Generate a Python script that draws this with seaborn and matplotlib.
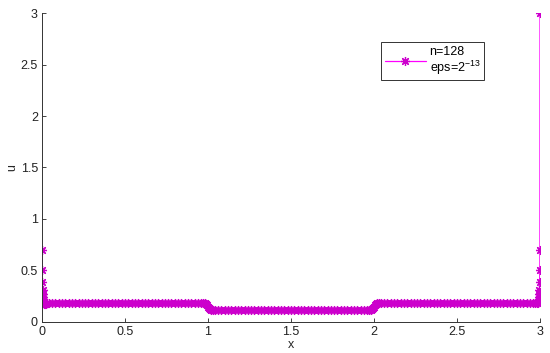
import numpy as np
import pandas as pd
import matplotlib
matplotlib.use("Agg")
import matplotlib.pyplot as plt
import seaborn as sns

# boundary layer at x=0
x_layer0 = [0.0, 0.001, 0.002, 0.003, 0.004, 0.005, 0.006, 0.007, 0.008, 0.010,
            0.013, 0.016, 0.020, 0.025, 0.030]
u_layer0 = [0.70, 0.50, 0.39, 0.31, 0.27, 0.24, 0.22, 0.20, 0.19, 0.18,
            0.175, 0.17, 0.172, 0.176, 0.18]

# plateau on [0,1]
x_plat1 = [0.04, 0.06, 0.08, 0.10, 0.12, 0.14, 0.16, 0.18, 0.20, 0.22, 0.24, 0.26,
           0.28, 0.30, 0.32, 0.34, 0.36, 0.38, 0.40, 0.42, 0.44, 0.46, 0.48, 0.50,
           0.52, 0.54, 0.56, 0.58, 0.60, 0.62, 0.64, 0.66, 0.68, 0.70, 0.72, 0.74,
           0.76, 0.78, 0.80, 0.82, 0.84, 0.86, 0.88, 0.90, 0.92, 0.94, 0.96]
u_plat1 = [0.18, 0.18, 0.18, 0.18, 0.18, 0.18, 0.18, 0.18, 0.18, 0.18, 0.18, 0.18,
           0.18, 0.18, 0.18, 0.18, 0.18, 0.18, 0.18, 0.18, 0.18, 0.18, 0.18, 0.18,
           0.18, 0.18, 0.18, 0.18, 0.18, 0.18, 0.18, 0.18, 0.18, 0.18, 0.18, 0.18,
           0.18, 0.18, 0.18, 0.18, 0.18, 0.18, 0.18, 0.18, 0.18, 0.18, 0.18]

# interior layer at x=1
x_jump1 = [0.97, 0.98, 0.985, 0.99, 0.995, 1.0, 1.005, 1.01, 1.015, 1.02, 1.03]
u_jump1 = [0.18, 0.18, 0.178, 0.172, 0.162, 0.148, 0.135, 0.126, 0.121, 0.119, 0.118]

# plateau on [1,2]
x_plat2 = [1.04, 1.06, 1.08, 1.10, 1.12, 1.14, 1.16, 1.18, 1.20, 1.22, 1.24, 1.26,
           1.28, 1.30, 1.32, 1.34, 1.36, 1.38, 1.40, 1.42, 1.44, 1.46, 1.48, 1.50,
           1.52, 1.54, 1.56, 1.58, 1.60, 1.62, 1.64, 1.66, 1.68, 1.70, 1.72, 1.74,
           1.76, 1.78, 1.80, 1.82, 1.84, 1.86, 1.88, 1.90, 1.92, 1.94, 1.96]
u_plat2 = [0.118, 0.118, 0.118, 0.118, 0.118, 0.118, 0.118, 0.118, 0.118, 0.118, 0.118, 0.118,
           0.118, 0.118, 0.118, 0.118, 0.118, 0.118, 0.118, 0.118, 0.118, 0.118, 0.118, 0.118,
           0.118, 0.118, 0.118, 0.118, 0.118, 0.118, 0.118, 0.118, 0.118, 0.118, 0.118, 0.118,
           0.118, 0.118, 0.118, 0.118, 0.118, 0.118, 0.118, 0.118, 0.118, 0.118, 0.118]

# interior layer at x=2
x_jump2 = [1.97, 1.98, 1.985, 1.99, 1.995, 2.0, 2.005, 2.01, 2.015, 2.02, 2.03]
u_jump2 = [0.118, 0.119, 0.121, 0.126, 0.135, 0.148, 0.162, 0.172, 0.178, 0.18, 0.18]

# plateau on [2,3]
x_plat3 = [2.04, 2.06, 2.08, 2.10, 2.12, 2.14, 2.16, 2.18, 2.20, 2.22, 2.24, 2.26,
           2.28, 2.30, 2.32, 2.34, 2.36, 2.38, 2.40, 2.42, 2.44, 2.46, 2.48, 2.50,
           2.52, 2.54, 2.56, 2.58, 2.60, 2.62, 2.64, 2.66, 2.68, 2.70, 2.72, 2.74,
           2.76, 2.78, 2.80, 2.82, 2.84, 2.86, 2.88, 2.90, 2.92, 2.94, 2.96]
u_plat3 = [0.18, 0.18, 0.18, 0.18, 0.18, 0.18, 0.18, 0.18, 0.18, 0.18, 0.18, 0.18,
           0.18, 0.18, 0.18, 0.18, 0.18, 0.18, 0.18, 0.18, 0.18, 0.18, 0.18, 0.18,
           0.18, 0.18, 0.18, 0.18, 0.18, 0.18, 0.18, 0.18, 0.18, 0.18, 0.18, 0.18,
           0.18, 0.18, 0.18, 0.18, 0.18, 0.18, 0.18, 0.18, 0.18, 0.18, 0.18]

# boundary layer at x=3
x_layer3 = [2.97, 2.98, 2.985, 2.99, 2.992, 2.994, 2.995, 2.996, 2.997, 2.998,
            2.999, 2.9995, 3.0]
u_layer3 = [0.18, 0.18, 0.185, 0.19, 0.20, 0.22, 0.24, 0.27, 0.31, 0.39,
            0.50, 0.70, 3.0]

label_line1 = 'n=128'
label_line2 = 'eps=2$^{-13}$'

x_all = x_layer0 + x_plat1 + x_jump1 + x_plat2 + x_jump2 + x_plat3 + x_layer3
u_all = u_layer0 + u_plat1 + u_jump1 + u_plat2 + u_jump2 + u_plat3 + u_layer3
df = pd.DataFrame({'x': x_all, 'u': u_all})

sns.set_style("white")
plt.rcParams['font.family'] = ['Liberation Sans', 'DejaVu Sans']
plt.rcParams['mathtext.fontset'] = 'custom'
plt.rcParams['mathtext.rm'] = 'Liberation Sans'
plt.rcParams['mathtext.it'] = 'Liberation Sans'
plt.rcParams['mathtext.default'] = 'regular'

fig = plt.figure(figsize=(5.5, 3.53), dpi=100)
ax = fig.add_axes([0.0764, 0.088, 0.9054, 0.875])

# matlab-style asterisk marker (+ and x combined)
sns.lineplot(data=df, x='x', y='u', sort=False, estimator=None, ax=ax,
             color='#ff00ff', linewidth=0.9, marker=(8, 2, 0), markersize=6.5,
             markeredgecolor='#cc00cc', markerfacecolor='#cc00cc',
             markeredgewidth=0.9, label=label_line1 + '\n' + label_line2)

ax.set_xlim(0, 3)
ax.set_ylim(0, 3)
ax.set_xticks([0, 0.5, 1, 1.5, 2, 2.5, 3])
ax.set_xticklabels(['0', '0.5', '1', '1.5', '2', '2.5', '3'])
ax.set_yticks([0, 0.5, 1, 1.5, 2, 2.5, 3])
ax.set_yticklabels(['0', '0.5', '1', '1.5', '2', '2.5', '3'])
ax.tick_params(direction='in', length=3, width=0.6, labelsize=9, colors='#222222',
               bottom=True, left=True, pad=3)
ax.set_xlabel('x', fontsize=9, labelpad=1)
ax.set_ylabel('u', fontsize=9, labelpad=2)

sns.despine(ax=ax)
for s in ['left', 'bottom']:
    ax.spines[s].set_color('#333333')
    ax.spines[s].set_linewidth(0.7)

leg = ax.legend(loc='upper right', bbox_to_anchor=(0.888, 0.906), fontsize=9,
                frameon=True, fancybox=False, handlelength=3.3, borderaxespad=0,
                borderpad=0.3, labelspacing=0.1, handletextpad=0.3)
leg.get_frame().set_edgecolor('black')
leg.get_frame().set_linewidth(0.7)
leg_text = leg.get_texts()[0]
leg_text.set_linespacing(1.05)
leg_text.set_alpha(0)

# two-line label gets centred, so draw each line left-aligned over it
fig.canvas.draw()
bb = leg_text.get_window_extent().transformed(fig.transFigure.inverted())
fig.text(bb.x0, bb.y1, label_line1, ha='left', va='top', fontsize=9, color='black')
fig.text(bb.x0, bb.y0, label_line2, ha='left', va='bottom', fontsize=9, color='black')

fig.savefig('out.png', dpi=100)
